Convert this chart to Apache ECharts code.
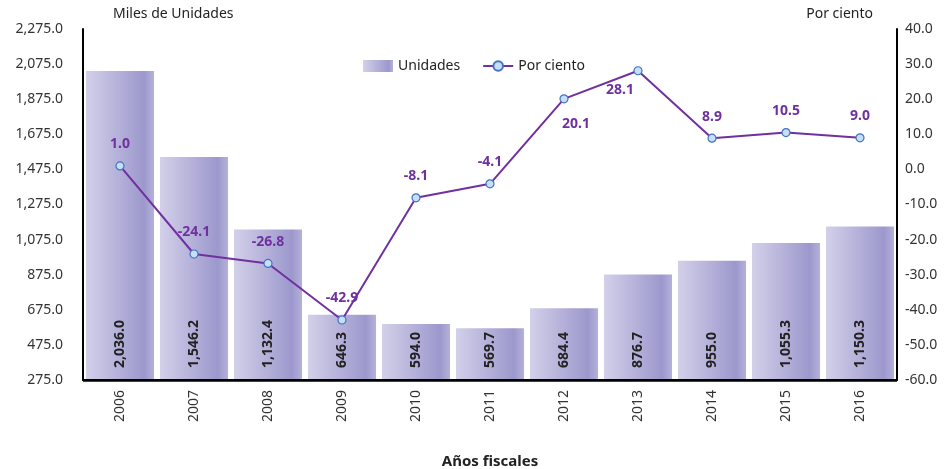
<!DOCTYPE html>
<html><head><meta charset="utf-8">
<script src="https://cdn.jsdelivr.net/npm/echarts@6/dist/echarts.min.js"></script>
<style>html,body{margin:0;padding:0;background:#fff}#c{width:948px;height:469px}</style>
</head><body><div id="c"></div>
<script>
const categories = ['2006','2007','2008','2009','2010','2011','2012','2013','2014','2015','2016'];
const unidades = [2036.0, 1546.2, 1132.4, 646.3, 594.0, 569.7, 684.4, 876.7, 955.0, 1055.3, 1150.3];
const porCiento = [1.0, -24.1, -26.8, -42.9, -8.1, -4.1, 20.1, 28.1, 8.9, 10.5, 9.0];
const leftTicks = {min: 275, max: 2275, interval: 200};
const rightTicks = {min: -60, max: 40, interval: 10};

const FONT = 'Noto Sans';
const fmt1 = v => v.toLocaleString('en-US', {minimumFractionDigits: 1, maximumFractionDigits: 1});
const barGrad = new echarts.graphic.LinearGradient(0, 0, 1, 0, [
  {offset: 0, color: '#D3D0EA'},
  {offset: 0.85, color: '#9C98CD'},
  {offset: 1, color: '#B4B1DA'}
]);
const labelOverrides = {
  6: {position: 'bottom', offset: [12, 4]},
  7: {position: 'bottom', offset: [-18, -2]}
};

const chart = echarts.init(document.getElementById('c'), null, {renderer: 'canvas'});
chart.setOption({
  animation: false,
  textStyle: {fontFamily: FONT},
  grid: {left: 83, right: 51, top: 29, bottom: 89, containLabel: false, outerBoundsMode: 'none'},
  legend: {
    top: 54, left: 'center', itemGap: 22, itemWidth: 30, itemHeight: 12,
    textStyle: {fontFamily: FONT, fontSize: 14, color: '#222'},
    data: [
      {name: 'Unidades', icon: 'rect'},
      {name: 'Por ciento'}
    ]
  },
  xAxis: {
    type: 'category', data: categories, z: 5, position: 'bottom',
    name: 'Años fiscales', nameLocation: 'middle', nameGap: 74,
    nameTextStyle: {fontFamily: FONT, fontSize: 15, fontWeight: 'bold', color: '#222'},
    axisLine: {show: true, onZero: false, lineStyle: {color: '#000', width: 2}},
    axisTick: {show: false},
    axisLabel: {rotate: 90, fontSize: 14, color: '#333', margin: 10, fontFamily: FONT}
  },
  yAxis: [
    {
      type: 'value', min: leftTicks.min, max: leftTicks.max, interval: leftTicks.interval, z: 5,
      name: 'Miles de Unidades', nameLocation: 'end', nameGap: 8,
      nameTextStyle: {fontFamily: FONT, fontSize: 14, color: '#222', align: 'left', padding: [0, 0, 0, 30]},
      axisLine: {show: true, onZero: false, lineStyle: {color: '#000', width: 2}},
      axisTick: {show: false}, splitLine: {show: false},
      axisLabel: {formatter: v => fmt1(v), fontSize: 14, color: '#333', margin: 20, fontFamily: FONT}
    },
    {
      type: 'value', min: rightTicks.min, max: rightTicks.max, interval: rightTicks.interval, z: 5,
      name: 'Por ciento', nameLocation: 'end', nameGap: 8,
      nameTextStyle: {fontFamily: FONT, fontSize: 14, color: '#222', align: 'right', padding: [0, 24, 0, 0]},
      axisLine: {show: true, onZero: false, lineStyle: {color: '#000', width: 2}},
      axisTick: {show: false}, splitLine: {show: false},
      axisLabel: {formatter: v => v.toFixed(1), fontSize: 14, color: '#333', margin: 8, fontFamily: FONT}
    }
  ],
  series: [
    {
      name: 'Unidades', type: 'bar', yAxisIndex: 0, barCategoryGap: '8%',
      data: unidades,
      itemStyle: {color: barGrad},
      label: {
        show: true, position: 'insideBottom', rotate: 90, align: 'left', verticalAlign: 'middle',
        distance: 12, formatter: p => fmt1(p.value),
        fontFamily: FONT, fontSize: 14, fontWeight: 'bold', color: '#222'
      },
      markLine: {
        silent: true, symbol: 'none', label: {show: false}, animation: false,
        lineStyle: {color: '#000', width: 2.5, type: 'solid'},
        data: [{yAxis: leftTicks.min}]
      },
      z: 1
    },
    {
      name: 'Por ciento', type: 'line', yAxisIndex: 1,
      data: porCiento.map((v, i) => labelOverrides[i] ? {value: v, label: labelOverrides[i]} : v),
      lineStyle: {color: '#7030A0', width: 2},
      itemStyle: {color: '#C6DFF3', borderColor: '#4472C4', borderWidth: 1.2},
      symbol: 'circle', symbolSize: 8,
      label: {
        show: true, position: 'top', distance: 10, formatter: p => p.value.toFixed(1),
        fontFamily: FONT, fontSize: 14, fontWeight: 'bold', color: '#7030A0'
      },
      z: 3
    }
  ]
});
</script></body></html>
